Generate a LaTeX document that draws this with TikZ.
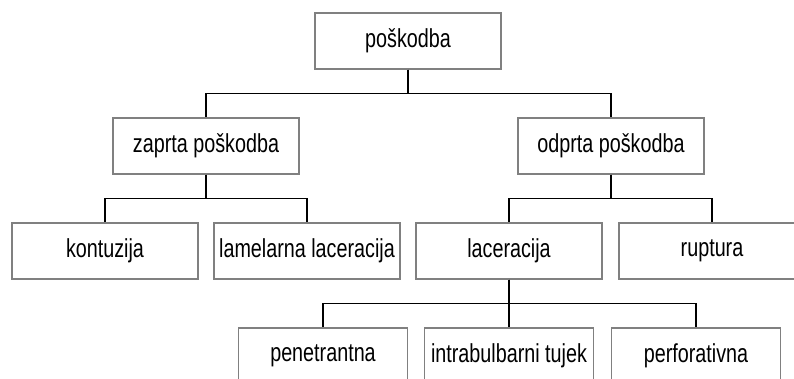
\documentclass[tikz,border=0pt]{standalone}
\usepackage{fontspec}
\setmainfont{Liberation Sans}[FakeStretch=0.76]
\usetikzlibrary{calc}
\begin{document}
\begin{tikzpicture}[x=1pt,y=-1pt,
  box/.style={draw=black!50, line width=1.3pt, fill=white, inner sep=0pt,
    minimum height=56pt, font=\fontsize{26}{30}\selectfont},
  wide/.style={box, minimum width=186pt},
  narrow/.style={box, minimum width=169pt},
  link/.style={draw=black, line width=1.4pt}]
\useasboundingbox (0,0) rectangle (794,379);
\clip (0,0) rectangle (794,379);

% top level
\node[wide] (root) at (408,41) {poškodba};

% second level
\node[wide] (closed) at (206,146) {zaprta poškodba};
\node[wide] (open)   at (611,146) {odprta poškodba};

% third level
\node[wide] (contusion) at (105,251) {kontuzija};
\node[wide] (lamellar)  at (307,251) {lamelarna laceracija};
\node[wide] (laceration) at (509,251) {laceracija};
\node[wide] (rupture)   at (712,251) {ruptura};

% fourth level
\node[narrow] (penetrating) at (323,356) {penetrantna};
\node[narrow] (foreign)     at (509,356) {intrabulbarni tujek};
\node[narrow] (perforating) at (696,356) {perforativna};

% elbow connectors through a shared bus halfway between levels
\foreach \p/\c in {root/closed, root/open,
                   closed/contusion, closed/lamellar,
                   open/laceration, open/rupture,
                   laceration/penetrating, laceration/foreign, laceration/perforating}
  \draw[link] (\p.south) |- ($(\p.south)!.5!(\c.north)$) -| (\c.north);
\end{tikzpicture}
\end{document}
